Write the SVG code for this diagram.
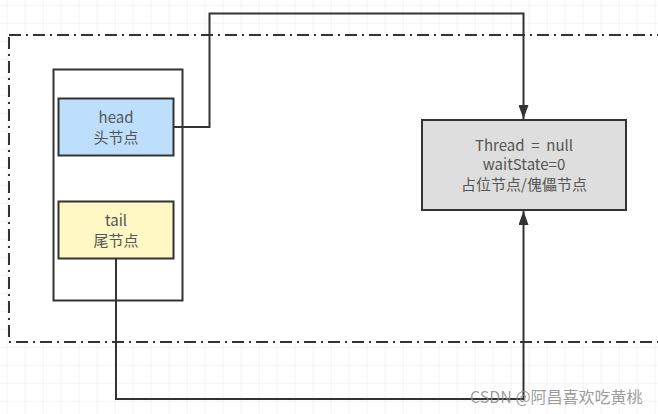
<svg xmlns="http://www.w3.org/2000/svg" width="658" height="414" viewBox="0 0 658 414">
  <defs>
    <pattern id="grid" x="6.7" y="4.7" width="18" height="18" patternUnits="userSpaceOnUse">
      <path d="M0 0 H18 M0 0 V18" fill="none" stroke="#e9e9e9" stroke-width="1"/>
    </pattern>
    <marker id="arr" viewBox="0 0 14 10" refX="14" refY="5" markerWidth="14" markerHeight="10" markerUnits="userSpaceOnUse" orient="auto">
      <path d="M0 0 L14 5 L0 10 Z" fill="#333333"/>
    </marker>
  </defs>
  <style>
    .box { stroke: #333333; stroke-width: 2; }
    .txt { font-family: "Noto Sans CJK SC", "Noto Sans", sans-serif; font-size: 15px; fill: #555555; text-anchor: middle; }
    .edge { fill: none; stroke: #333333; stroke-width: 2; }
    .wm { font-family: "Noto Sans CJK SC", "Noto Sans", sans-serif; font-size: 16px; fill: #8a8a8a; fill-opacity: 0.85; }
  </style>
  <rect x="0" y="0" width="658" height="414" fill="#ffffff"/>
  <rect x="0" y="0" width="658" height="414" fill="url(#grid)"/>

  <g id="container">
    <rect x="9" y="35" width="660" height="307" fill="#ffffff" stroke="#333333" stroke-width="2" stroke-dasharray="12 5 2 5"/>
  </g>

  <g id="stack">
    <rect class="box" x="53.5" y="69.5" width="129" height="231" fill="#ffffff"/>
  </g>

  <g id="head">
    <rect class="box" x="58.5" y="98.5" width="115" height="57" fill="#bddffb"/>
    <text class="txt" x="116" y="123">head</text>
    <text class="txt" x="116" y="142.5">头节点</text>
  </g>

  <g id="tail">
    <rect class="box" x="58.5" y="201.5" width="115" height="57" fill="#fff8c4"/>
    <text class="txt" x="116" y="226">tail</text>
    <text class="txt" x="116" y="245.5">尾节点</text>
  </g>

  <g id="placeholder">
    <rect class="box" x="422" y="120" width="204" height="90" fill="#dedede"/>
    <text class="txt" x="524" y="151" xml:space="preserve">Thread  =  null</text>
    <text class="txt" x="524" y="170">waitState=0</text>
    <text class="txt" x="524" y="189.5">占位节点/傀儡节点</text>
  </g>

  <g id="connectors">
    <path class="edge" d="M174 127 H209.5 V13.5 H523.5 V119" marker-end="url(#arr)"/>
    <path class="edge" d="M116 259 V399 H523.5 V211" marker-end="url(#arr)"/>
  </g>

  <text class="wm" x="470" y="403">CSDN @阿昌喜欢吃黄桃</text>
</svg>
